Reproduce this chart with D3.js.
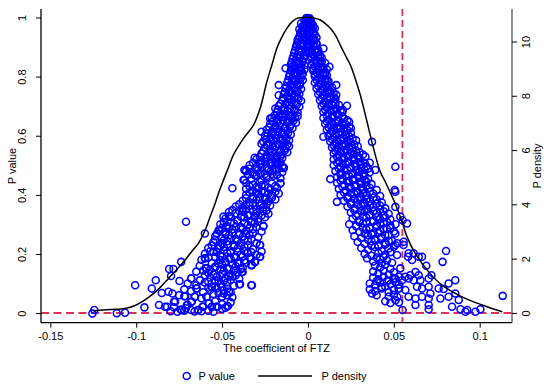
<!DOCTYPE html>
<html><head><meta charset="utf-8">
<script src="https://cdn.jsdelivr.net/npm/d3@7"></script>
<style>body{margin:0;background:#fff}svg{display:block}text{font-family:"Liberation Sans",Arial,sans-serif;font-size:11px;fill:#000}</style>
</head><body><svg id="c" width="550" height="387"></svg>
<script>
const xTicks=[-0.15,-0.1,-0.05,0,0.05,0.1];
const xTickLabels=["-0.15","-0.1","-0.05","0","0.05","0.1"];
const yTicks=[0,0.2,0.4,0.6,0.8,1];
const yTickLabels=["0","0.2","0.4","0.6","0.8","1"];
const y2Ticks=[0,2,4,6,8,10];
const y2TickLabels=["0","2","4","6","8","10"];
const xLineValue=0.055, yLineValue=0.002;
const seriesNames=["P value","P density"];
const axisTitles={x:"The coefficient of FTZ",y:"P value",y2:"P density"};

const densityPoints=[[-0.1249,0.10],[-0.1152,0.14],[-0.1065,0.18],[-0.1006,0.29],[-0.0960,0.45],[-0.0909,0.68],[-0.0861,0.95],[-0.0812,1.29],[-0.0762,1.63],[-0.0715,1.97],[-0.0674,2.30],[-0.0638,2.58],[-0.0598,3.07],[-0.0569,3.57],[-0.0540,4.06],[-0.0517,4.49],[-0.0492,4.91],[-0.0464,5.36],[-0.0434,5.84],[-0.0375,6.45],[-0.0317,6.94],[-0.0278,7.56],[-0.0239,8.54],[-0.0210,9.15],[-0.0181,9.77],[-0.0152,10.18],[-0.0122,10.51],[-0.0093,10.74],[-0.0064,10.87],[-0.0033,10.90],[0,10.91],[0.0043,10.87],[0.0072,10.81],[0.0101,10.68],[0.0130,10.51],[0.0159,10.26],[0.0188,9.89],[0.0217,9.52],[0.0247,9.15],[0.0276,8.64],[0.0305,8.05],[0.0344,7.06],[0.0382,6.08],[0.0421,5.22],[0.0450,4.85],[0.0509,4.03],[0.0548,3.38],[0.0577,2.82],[0.0625,2.21],[0.0703,1.53],[0.0781,1.04],[0.0897,0.61],[0.1014,0.31],[0.1131,0.06]];

const leftBranchPoints=[[-0.001,1.0],[0.0,0.998],[0.001,0.999],[-0.0005,0.995],[0.0015,0.993],
[-0.004,0.982],[-0.002,0.979],[0.0,0.984],[-0.003,0.972],[0.002,0.976],
[-0.005,0.962],[-0.003,0.958],[-0.001,0.965],[0.001,0.955],[-0.004,0.948],
[-0.005,0.938],[-0.003,0.942],[-0.001,0.932],[-0.006,0.926],
[-0.006,0.918],[-0.004,0.914],[-0.002,0.922],[0.0,0.91],
[-0.007,0.902],[-0.005,0.896],[-0.003,0.905],[-0.001,0.892],
[-0.008,0.882],[-0.006,0.876],[-0.004,0.885],[-0.002,0.871],
[-0.009,0.862],[-0.007,0.858],[-0.005,0.865],[-0.003,0.852],[-0.0095,0.85],
[-0.010,0.842],[-0.008,0.838],[-0.006,0.845],[-0.004,0.832],[-0.002,0.84],
[-0.010,0.822],[-0.008,0.816],[-0.005,0.825],[-0.003,0.812],[-0.013,0.83],
[-0.011,0.802],[-0.009,0.795],[-0.006,0.806],[-0.004,0.798],
[-0.012,0.782],[-0.010,0.776],[-0.007,0.785],[-0.005,0.772],[-0.003,0.79],[-0.017,0.773],
[-0.013,0.762],[-0.011,0.756],[-0.008,0.765],[-0.006,0.752],[-0.004,0.76],
[-0.014,0.742],[-0.012,0.736],[-0.009,0.745],[-0.006,0.732],[-0.017,0.739],
[-0.015,0.722],[-0.012,0.716],[-0.010,0.725],[-0.007,0.712],[-0.004,0.72],
[-0.017,0.702],[-0.014,0.696],[-0.011,0.705],[-0.008,0.692],[-0.005,0.7],[-0.019,0.694],
[-0.018,0.682],[-0.015,0.676],[-0.012,0.685],[-0.009,0.672],[-0.006,0.68],
[-0.021,0.662],[-0.018,0.656],[-0.015,0.665],[-0.012,0.652],[-0.009,0.66],[-0.006,0.668],[-0.022,0.66],
[-0.022,0.642],[-0.019,0.636],[-0.016,0.645],[-0.013,0.632],[-0.010,0.64],[-0.007,0.646],
[-0.024,0.622],[-0.021,0.616],[-0.018,0.625],[-0.015,0.612],[-0.012,0.62],[-0.009,0.628],[-0.027,0.615],
[-0.025,0.602],[-0.022,0.596],[-0.019,0.605],[-0.016,0.592],[-0.013,0.6],[-0.010,0.606],
[-0.026,0.582],[-0.023,0.576],[-0.020,0.585],[-0.017,0.572],[-0.014,0.58],[-0.011,0.586],[-0.027,0.575],
[-0.025,0.562],[-0.022,0.556],[-0.019,0.565],[-0.016,0.552],[-0.013,0.56],[-0.011,0.566],
[-0.027,0.542],[-0.024,0.536],[-0.021,0.545],[-0.018,0.532],[-0.015,0.54],[-0.012,0.546],
[-0.030,0.522],[-0.027,0.516],[-0.024,0.525],[-0.021,0.512],[-0.018,0.52],[-0.015,0.526],[-0.031,0.527],
[-0.034,0.502],[-0.030,0.496],[-0.027,0.505],[-0.024,0.492],[-0.021,0.5],[-0.018,0.506],[-0.015,0.498],
[-0.036,0.482],[-0.032,0.476],[-0.029,0.485],[-0.025,0.472],[-0.022,0.48],[-0.019,0.486],[-0.015,0.478],[-0.037,0.486],[-0.014,0.493],
[-0.037,0.452],[-0.033,0.456],[-0.030,0.465],[-0.027,0.452],[-0.024,0.46],[-0.020,0.466],[-0.016,0.458],
[-0.036,0.442],[-0.032,0.436],[-0.028,0.445],[-0.025,0.432],[-0.021,0.44],[-0.016,0.441],[-0.044,0.424],
[-0.036,0.422],[-0.032,0.416],[-0.029,0.425],[-0.025,0.412],[-0.022,0.42],[-0.018,0.426],
[-0.036,0.402],[-0.032,0.396],[-0.029,0.405],[-0.025,0.392],[-0.021,0.4],[-0.017,0.406],
[-0.038,0.382],[-0.034,0.376],[-0.030,0.385],[-0.027,0.372],[-0.023,0.38],[-0.019,0.386],
[-0.042,0.362],[-0.038,0.356],[-0.034,0.365],[-0.030,0.352],[-0.026,0.36],[-0.022,0.366],
[-0.046,0.344],[-0.042,0.339],[-0.038,0.345],[-0.034,0.332],[-0.030,0.34],[-0.026,0.346],[-0.023,0.338],
[-0.048,0.322],[-0.045,0.328],[-0.041,0.316],[-0.037,0.325],[-0.033,0.312],[-0.029,0.32],[-0.025,0.326],
[-0.051,0.302],[-0.047,0.296],[-0.043,0.305],[-0.039,0.292],[-0.035,0.3],[-0.031,0.306],[-0.026,0.296],[-0.071,0.311],
[-0.052,0.282],[-0.048,0.276],[-0.044,0.285],[-0.040,0.272],[-0.036,0.28],[-0.032,0.286],[-0.027,0.278],[-0.051,0.283],
[-0.054,0.262],[-0.050,0.256],[-0.046,0.265],[-0.042,0.252],[-0.038,0.26],[-0.034,0.266],[-0.029,0.258],[-0.060,0.271],
[-0.055,0.242],[-0.050,0.238],[-0.047,0.245],[-0.043,0.232],[-0.039,0.24],[-0.035,0.246],[-0.030,0.238],
[-0.058,0.222],[-0.052,0.221],[-0.049,0.225],[-0.045,0.212],[-0.041,0.22],[-0.037,0.226],[-0.032,0.218],[-0.028,0.232],
[-0.060,0.202],[-0.055,0.209],[-0.051,0.196],[-0.047,0.205],[-0.043,0.192],[-0.039,0.2],[-0.035,0.206],[-0.030,0.198],[-0.027,0.21],
[-0.062,0.182],[-0.060,0.187],[-0.051,0.181],[-0.048,0.176],[-0.045,0.185],[-0.041,0.172],[-0.037,0.18],[-0.033,0.186],[-0.028,0.192],[-0.031,0.175],
[-0.063,0.162],[-0.059,0.153],[-0.054,0.158],[-0.050,0.166],[-0.046,0.152],[-0.042,0.16],[-0.038,0.155],[-0.033,0.164],
[-0.065,0.142],[-0.058,0.138],[-0.053,0.125],[-0.049,0.145],[-0.045,0.132],[-0.041,0.14],[-0.038,0.141],[-0.061,0.146],
[-0.068,0.119],[-0.063,0.113],[-0.057,0.122],[-0.052,0.112],[-0.048,0.12],[-0.044,0.126],[-0.040,0.118],
[-0.070,0.102],[-0.065,0.096],[-0.060,0.105],[-0.056,0.091],[-0.051,0.1],[-0.047,0.106],[-0.043,0.094],[-0.040,0.099],[-0.033,0.096],
[-0.072,0.082],[-0.068,0.076],[-0.065,0.085],[-0.061,0.072],[-0.057,0.08],[-0.053,0.086],[-0.049,0.078],[-0.045,0.072],
[-0.075,0.062],[-0.072,0.059],[-0.066,0.057],[-0.062,0.052],[-0.059,0.057],[-0.055,0.066],[-0.050,0.057],[-0.047,0.062],[-0.044,0.055],
[-0.078,0.04],[-0.070,0.029],[-0.068,0.04],[-0.058,0.035],[-0.054,0.042],[-0.050,0.032],[-0.047,0.026],[-0.045,0.038],
[-0.082,0.023],[-0.078,0.021],[-0.074,0.014],[-0.071,0.018],[-0.068,0.012],[-0.064,0.012],[-0.061,0.023],[-0.056,0.023],[-0.053,0.023],[-0.050,0.016],[-0.048,0.02],
[-0.080,0.008],[-0.076,0.006],[-0.072,0.01],[-0.066,0.007],[-0.062,0.008],[-0.058,0.01],[-0.055,0.006]];

const leftFillPoints=[[-0.002,0.99],[0.0005,0.988],
[-0.0035,0.97],[-0.0015,0.968],[0.0005,0.972],
[-0.0045,0.95],[-0.0025,0.952],[-0.0005,0.946],
[-0.0055,0.93],[-0.0035,0.928],[-0.0015,0.934],
[-0.0065,0.91],[-0.0045,0.908],[-0.0025,0.912],[-0.0005,0.904],
[-0.0075,0.89],[-0.0055,0.888],[-0.0035,0.892],[-0.0015,0.884],
[-0.0085,0.87],[-0.0065,0.868],[-0.0045,0.874],[-0.0025,0.864],
[-0.0095,0.835],[-0.007,0.85],[-0.005,0.848],[-0.003,0.855],
[-0.009,0.828],[-0.007,0.83],[-0.004,0.822],[-0.002,0.826],
[-0.0105,0.81],[-0.0085,0.808],[-0.0065,0.814],[-0.0035,0.806],
[-0.0115,0.79],[-0.0085,0.788],[-0.0055,0.792],
[-0.0125,0.77],[-0.0095,0.768],[-0.0065,0.774],[-0.0045,0.778],
[-0.0135,0.75],[-0.0105,0.748],[-0.0075,0.754],[-0.005,0.744],
[-0.0145,0.73],[-0.011,0.728],[-0.008,0.734],[-0.0055,0.726],
[-0.016,0.71],[-0.013,0.708],[-0.0095,0.714],[-0.0065,0.706],
[-0.0175,0.69],[-0.0135,0.688],[-0.0105,0.694],[-0.0075,0.686],
[-0.0195,0.67],[-0.0165,0.668],[-0.0135,0.674],[-0.0105,0.666],[-0.0075,0.664],
[-0.0205,0.65],[-0.0175,0.648],[-0.0145,0.654],[-0.0115,0.646],[-0.0085,0.652],
[-0.0225,0.63],[-0.0195,0.628],[-0.0165,0.634],[-0.0135,0.626],[-0.0105,0.632],
[-0.0235,0.61],[-0.0205,0.608],[-0.0175,0.614],[-0.0145,0.606],[-0.0115,0.612],
[-0.0245,0.59],[-0.0215,0.588],[-0.0185,0.594],[-0.0155,0.586],[-0.0125,0.592],
[-0.024,0.57],[-0.0205,0.568],[-0.0175,0.574],[-0.0145,0.566],[-0.012,0.572],
[-0.026,0.55],[-0.0225,0.548],[-0.0195,0.554],[-0.0165,0.546],[-0.0135,0.552],
[-0.028,0.53],[-0.025,0.528],[-0.022,0.534],[-0.019,0.526],[-0.016,0.532],
[-0.032,0.51],[-0.028,0.508],[-0.025,0.514],[-0.022,0.506],[-0.019,0.512],[-0.016,0.51],
[-0.034,0.49],[-0.030,0.488],[-0.027,0.494],[-0.023,0.486],[-0.020,0.492],[-0.017,0.49],
[-0.035,0.47],[-0.031,0.468],[-0.028,0.474],[-0.024,0.466],[-0.021,0.472],[-0.018,0.47],
[-0.034,0.43],[-0.030,0.428],[-0.027,0.434],[-0.023,0.426],[-0.019,0.432],
[-0.034,0.41],[-0.030,0.408],[-0.027,0.414],[-0.023,0.406],[-0.019,0.412],
[-0.036,0.39],[-0.032,0.388],[-0.028,0.394],[-0.025,0.386],[-0.021,0.392],
[-0.040,0.37],[-0.036,0.368],[-0.032,0.374],[-0.028,0.366],[-0.024,0.372],
[-0.044,0.35],[-0.040,0.348],[-0.036,0.354],[-0.032,0.346],[-0.028,0.352],[-0.024,0.35],
[-0.046,0.33],[-0.039,0.328],[-0.035,0.334],[-0.031,0.326],[-0.027,0.332],
[-0.049,0.31],[-0.045,0.308],[-0.041,0.314],[-0.037,0.306],[-0.033,0.31],[-0.029,0.312],
[-0.050,0.29],[-0.046,0.288],[-0.042,0.294],[-0.038,0.286],[-0.034,0.29],[-0.030,0.292],
[-0.053,0.27],[-0.048,0.268],[-0.044,0.274],[-0.040,0.266],[-0.036,0.27],[-0.032,0.272],
[-0.054,0.25],[-0.049,0.248],[-0.045,0.254],[-0.041,0.246],[-0.037,0.25],[-0.033,0.252],
[-0.056,0.23],[-0.051,0.228],[-0.047,0.234],[-0.043,0.226],[-0.039,0.23],[-0.035,0.232],
[-0.057,0.21],[-0.053,0.208],[-0.049,0.214],[-0.045,0.206],[-0.041,0.21],[-0.037,0.212],[-0.033,0.208],
[-0.058,0.19],[-0.054,0.192],[-0.050,0.194],[-0.046,0.186],[-0.042,0.19],[-0.038,0.194],[-0.034,0.19],
[-0.056,0.17],[-0.052,0.168],[-0.048,0.174],[-0.044,0.166],[-0.040,0.17],[-0.036,0.172],
[-0.057,0.148],[-0.051,0.15],[-0.047,0.154],[-0.043,0.146],[-0.039,0.15],
[-0.060,0.13],[-0.055,0.132],[-0.050,0.134],[-0.046,0.126],[-0.042,0.13],
[-0.058,0.108],[-0.054,0.112],[-0.049,0.11],[-0.045,0.114],
[-0.058,0.088],[-0.054,0.092],[-0.050,0.09],[-0.047,0.084],
[-0.052,0.07],[-0.049,0.068],[-0.046,0.075]];

const leftTailPoints=[[-0.1255,0.0],[-0.1244,0.012],[-0.1113,0.001],[-0.1065,0.003],[-0.1006,0.096],[-0.0952,0.021],[-0.0909,0.085],[-0.0886,0.113],[-0.0867,0.029],[-0.0851,0.07],[-0.0832,0.023],[-0.0812,0.074],[-0.0808,0.151],[-0.0783,0.151],[-0.0797,0.127],[-0.0789,0.068],[-0.0773,0.04],[-0.0748,0.11],[-0.0738,0.175],[-0.0734,0.012],[-0.0715,0.059],[-0.0705,0.029],[-0.068,0.119],[-0.0676,0.04],[-0.0657,0.057],[-0.0647,0.085],[-0.0628,0.113],[-0.0598,0.187],[-0.0594,0.153],[-0.0614,0.023],[-0.0638,0.012],[-0.0589,0.057],[-0.0575,0.035],[-0.0559,0.091],[-0.054,0.158],[-0.053,0.125],[-0.0517,0.283],[-0.0521,0.221],[-0.0501,0.238],[-0.0492,0.328],[-0.0511,0.181],[-0.053,0.023],[-0.0559,0.023],[-0.0501,0.057],
[-0.0326,0.096],[-0.0466,0.026],[-0.0395,0.099],[-0.0385,0.141],[-0.0259,0.296],[-0.0278,0.232],[-0.0278,0.192],[-0.0326,0.164],[-0.0307,0.175],[-0.0375,0.452],[-0.0365,0.486],[-0.0161,0.441],[-0.0142,0.493]];

const rightBranchPoints=[[0.002,0.985],[0.003,0.975],[0.001,0.98],
[0.000,0.962],[0.002,0.958],[0.004,0.965],[0.003,0.95],
[0.0,0.942],[0.002,0.936],[0.004,0.944],
[-0.0005,0.922],[0.002,0.916],[0.004,0.925],[0.005,0.912],
[0.000,0.902],[0.002,0.896],[0.004,0.905],[0.006,0.892],[0.009,0.897],
[0.001,0.882],[0.003,0.876],[0.005,0.885],[0.007,0.872],
[0.002,0.862],[0.004,0.856],[0.006,0.865],[0.008,0.852],
[0.002,0.842],[0.004,0.836],[0.007,0.845],[0.009,0.832],[0.0125,0.835],[0.010,0.848],
[0.003,0.822],[0.005,0.816],[0.008,0.825],[0.010,0.812],
[0.004,0.802],[0.006,0.796],[0.009,0.805],[0.011,0.792],
[0.004,0.782],[0.007,0.776],[0.010,0.785],[0.012,0.772],[0.0165,0.773],
[0.005,0.762],[0.008,0.756],[0.011,0.765],[0.013,0.752],
[0.006,0.742],[0.009,0.736],[0.012,0.745],[0.015,0.732],[0.0165,0.74],
[0.007,0.722],[0.010,0.716],[0.013,0.725],[0.016,0.712],
[0.008,0.702],[0.011,0.696],[0.014,0.705],[0.017,0.692],[0.0227,0.703],[0.0204,0.689],
[0.009,0.682],[0.012,0.676],[0.015,0.685],[0.018,0.672],[0.020,0.68],
[0.009,0.662],[0.012,0.656],[0.015,0.665],[0.018,0.652],[0.021,0.66],
[0.010,0.642],[0.013,0.636],[0.016,0.645],[0.019,0.632],[0.022,0.64],[0.024,0.648],
[0.011,0.622],[0.014,0.616],[0.017,0.625],[0.020,0.612],[0.023,0.62],[0.025,0.628],
[0.012,0.602],[0.015,0.596],[0.018,0.605],[0.021,0.592],[0.024,0.6],[0.009,0.598],
[0.013,0.582],[0.016,0.576],[0.019,0.585],[0.022,0.572],[0.025,0.58],[0.028,0.586],[0.0373,0.581],
[0.014,0.562],[0.017,0.556],[0.020,0.565],[0.023,0.552],[0.026,0.56],[0.029,0.566],
[0.015,0.542],[0.018,0.536],[0.021,0.545],[0.024,0.532],[0.027,0.54],[0.030,0.546],[0.032,0.538],
[0.015,0.522],[0.018,0.516],[0.021,0.525],[0.024,0.512],[0.027,0.52],[0.030,0.526],[0.0334,0.531],
[0.015,0.502],[0.019,0.496],[0.022,0.505],[0.025,0.492],[0.028,0.5],[0.031,0.506],[0.034,0.498],[0.036,0.51],
[0.016,0.482],[0.019,0.476],[0.023,0.485],[0.026,0.472],[0.030,0.48],[0.033,0.486],[0.036,0.478],[0.0392,0.486],[0.0509,0.497],
[0.017,0.462],[0.020,0.456],[0.024,0.465],[0.027,0.452],[0.030,0.46],[0.033,0.466],[0.035,0.456],[0.013,0.455],
[0.017,0.442],[0.021,0.436],[0.024,0.445],[0.028,0.432],[0.031,0.44],[0.034,0.446],[0.037,0.438],
[0.018,0.422],[0.022,0.416],[0.025,0.425],[0.029,0.412],[0.032,0.42],[0.036,0.426],[0.040,0.418],[0.0505,0.418],
[0.019,0.402],[0.023,0.396],[0.027,0.405],[0.030,0.392],[0.034,0.4],[0.038,0.406],[0.042,0.398],[0.0509,0.412],
[0.021,0.382],[0.025,0.376],[0.029,0.385],[0.032,0.372],[0.036,0.38],[0.040,0.386],[0.043,0.376],[0.0169,0.378],
[0.023,0.362],[0.027,0.356],[0.031,0.365],[0.034,0.352],[0.038,0.36],[0.042,0.366],[0.045,0.356],[0.0509,0.361],
[0.025,0.342],[0.029,0.336],[0.033,0.345],[0.036,0.332],[0.040,0.34],[0.044,0.346],[0.047,0.338],
[0.026,0.322],[0.030,0.316],[0.034,0.325],[0.038,0.312],[0.042,0.32],[0.045,0.326],[0.048,0.318],[0.0538,0.328],[0.0551,0.316],
[0.024,0.302],[0.028,0.296],[0.032,0.305],[0.036,0.292],[0.040,0.3],[0.044,0.306],[0.048,0.298],[0.051,0.302],[0.0577,0.305],
[0.026,0.282],[0.030,0.276],[0.034,0.285],[0.038,0.272],[0.042,0.28],[0.046,0.286],[0.050,0.278],
[0.027,0.262],[0.031,0.256],[0.035,0.265],[0.039,0.252],[0.043,0.26],[0.047,0.266],[0.0509,0.271],
[0.029,0.242],[0.033,0.236],[0.037,0.245],[0.041,0.232],[0.045,0.24],[0.049,0.246],[0.052,0.238],[0.0557,0.243],[0.0557,0.232],[0.0509,0.232],
[0.031,0.222],[0.035,0.216],[0.039,0.225],[0.043,0.212],[0.047,0.22],[0.050,0.226],
[0.033,0.202],[0.037,0.196],[0.041,0.205],[0.045,0.199],[0.048,0.208],[0.0519,0.198],[0.0586,0.204],[0.0615,0.204],[0.0804,0.212],
[0.0344,0.187],[0.038,0.176],[0.042,0.185],[0.046,0.18],[0.049,0.172],[0.0583,0.192],[0.0606,0.181],[0.0645,0.192],[0.0664,0.192],[0.0784,0.175],
[0.039,0.162],[0.042,0.156],[0.045,0.165],[0.048,0.152],[0.0538,0.153],[0.0689,0.162],
[0.038,0.142],[0.041,0.136],[0.044,0.145],[0.047,0.132],[0.050,0.14],[0.0626,0.141],[0.0645,0.13],[0.0596,0.13],[0.0567,0.125],[0.0528,0.125],[0.0719,0.13],
[0.038,0.122],[0.041,0.116],[0.044,0.125],[0.047,0.112],[0.050,0.12],[0.0509,0.119],[0.0548,0.113],[0.0586,0.119],[0.0615,0.113],[0.0655,0.113],[0.0703,0.119],[0.0819,0.102],[0.0858,0.113],
[0.036,0.102],[0.039,0.096],[0.042,0.105],[0.045,0.092],[0.048,0.1],[0.051,0.106],[0.053,0.098],
[0.036,0.082],[0.039,0.076],[0.043,0.085],[0.047,0.072],[0.050,0.08],[0.053,0.086],[0.0528,0.085],[0.0567,0.08],[0.0635,0.091],[0.0664,0.085],[0.0703,0.091],[0.0761,0.085],[0.079,0.083],[0.0713,0.068],
[0.0373,0.068],[0.040,0.062],[0.047,0.058],[0.050,0.064],[0.052,0.056],[0.0586,0.057],[0.0626,0.051],[0.0664,0.057],[0.0703,0.051],[0.0771,0.051],[0.0819,0.057],[0.0858,0.068],[0.1134,0.06],
[0.045,0.042],[0.048,0.036],[0.051,0.045],[0.053,0.038],[0.0878,0.046],[0.0626,0.029],[0.0703,0.029],[0.0703,0.015],[0.0839,0.023],[0.0888,0.015],[0.0917,0.006],[0.0927,0.012],[0.0975,0.006],[0.1004,0.015],[0.0551,0.012]];

const rightFillPoints=[[0.001,0.97],[0.003,0.968],[0.001,0.95],[0.003,0.948],
[0.001,0.93],[0.003,0.928],[0.005,0.934],
[0.001,0.91],[0.003,0.908],[0.005,0.914],
[0.002,0.89],[0.004,0.888],[0.006,0.884],
[0.002,0.87],[0.004,0.868],[0.006,0.874],[0.008,0.866],
[0.003,0.85],[0.005,0.848],[0.007,0.854],
[0.003,0.83],[0.006,0.828],[0.008,0.834],[0.011,0.826],
[0.004,0.81],[0.007,0.808],[0.009,0.814],[0.011,0.806],
[0.005,0.79],[0.008,0.788],[0.010,0.794],[0.012,0.786],
[0.006,0.77],[0.009,0.768],[0.011,0.774],[0.014,0.766],
[0.007,0.75],[0.010,0.748],[0.012,0.754],[0.015,0.746],
[0.008,0.73],[0.011,0.728],[0.013,0.734],[0.016,0.726],
[0.009,0.71],[0.012,0.708],[0.015,0.714],[0.018,0.706],
[0.010,0.69],[0.013,0.688],[0.016,0.694],[0.019,0.686],
[0.011,0.67],[0.014,0.668],[0.017,0.674],[0.020,0.666],
[0.011,0.65],[0.014,0.648],[0.017,0.654],[0.020,0.646],[0.023,0.654],
[0.012,0.63],[0.015,0.628],[0.018,0.634],[0.021,0.626],[0.024,0.632],
[0.013,0.61],[0.016,0.608],[0.019,0.614],[0.022,0.606],[0.025,0.612],
[0.014,0.59],[0.017,0.588],[0.020,0.594],[0.023,0.586],[0.026,0.592],
[0.015,0.57],[0.018,0.568],[0.021,0.574],[0.024,0.566],[0.027,0.572],
[0.016,0.55],[0.019,0.548],[0.022,0.554],[0.025,0.546],[0.028,0.552],
[0.017,0.53],[0.020,0.528],[0.023,0.534],[0.026,0.526],[0.029,0.532],
[0.017,0.51],[0.020,0.508],[0.023,0.514],[0.027,0.506],[0.030,0.512],[0.033,0.51],
[0.018,0.49],[0.021,0.488],[0.025,0.494],[0.028,0.486],[0.031,0.492],[0.035,0.49],
[0.019,0.47],[0.022,0.468],[0.026,0.474],[0.029,0.466],[0.032,0.472],
[0.019,0.45],[0.023,0.448],[0.026,0.454],[0.030,0.446],[0.033,0.452],
[0.020,0.43],[0.024,0.428],[0.027,0.434],[0.031,0.426],[0.034,0.432],
[0.021,0.41],[0.025,0.408],[0.028,0.414],[0.032,0.406],[0.036,0.412],
[0.023,0.39],[0.027,0.388],[0.031,0.394],[0.034,0.386],[0.038,0.392],
[0.025,0.37],[0.029,0.368],[0.033,0.374],[0.036,0.366],[0.040,0.372],
[0.027,0.35],[0.031,0.348],[0.035,0.354],[0.038,0.346],[0.042,0.352],
[0.028,0.33],[0.032,0.328],[0.036,0.334],[0.040,0.326],[0.044,0.332],
[0.030,0.31],[0.034,0.308],[0.038,0.314],[0.042,0.306],[0.046,0.31],
[0.032,0.29],[0.036,0.288],[0.040,0.294],[0.044,0.286],[0.048,0.29],
[0.033,0.27],[0.037,0.268],[0.041,0.274],[0.045,0.266],
[0.035,0.25],[0.039,0.248],[0.043,0.254],[0.047,0.246],
[0.037,0.23],[0.041,0.228],[0.045,0.234],
[0.040,0.19],[0.044,0.192],[0.043,0.17],[0.040,0.11],[0.043,0.09],[0.046,0.11]];

const pValuePoints=[].concat(leftBranchPoints,leftFillPoints,leftTailPoints,rightBranchPoints,rightFillPoints);

const svg=d3.select("#c");
svg.append("rect").attr("width",550).attr("height",387).attr("fill","#fff");
const frame={l:41,r:512,t:9,b:322.7};
const x=d3.scaleLinear().domain([-0.15,0.1]).range([50.3,479.7]);
const y=d3.scaleLinear().domain([0,1]).range([313.6,18]);
const y2=d3.scaleLinear().domain([0,10]).range([313.4,42]);
const red="#d8325a", blue="#0000ff";

svg.append("line").attr("x1",frame.l).attr("x2",frame.r).attr("y1",y(yLineValue)).attr("y2",y(yLineValue))
  .attr("stroke",red).attr("stroke-width",1.8).attr("stroke-dasharray","8,4.5");
svg.append("line").attr("x1",x(xLineValue)).attr("x2",x(xLineValue)).attr("y1",frame.t).attr("y2",frame.b)
  .attr("stroke",red).attr("stroke-width",1.8).attr("stroke-dasharray","7,4");

svg.append("g").selectAll("circle").data(pValuePoints).join("circle")
  .attr("cx",d=>x(d[0])).attr("cy",d=>y(d[1])).attr("r",3.5)
  .attr("fill","none").attr("stroke",blue).attr("stroke-width",1.55);

svg.append("path").datum(densityPoints)
  .attr("d",d3.line().x(d=>x(d[0])).y(d=>y2(d[1])).curve(d3.curveCatmullRom.alpha(0.5)))
  .attr("fill","none").attr("stroke","#000").attr("stroke-width",1.5);

svg.append("line").attr("x1",frame.l).attr("x2",frame.l).attr("y1",frame.t).attr("y2",frame.b).attr("stroke","#000").attr("stroke-width",1.3);
svg.append("line").attr("x1",frame.l).attr("x2",frame.r).attr("y1",frame.b).attr("y2",frame.b).attr("stroke","#000").attr("stroke-width",1.3);
svg.append("line").attr("x1",frame.r).attr("x2",frame.r).attr("y1",frame.t).attr("y2",frame.b).attr("stroke","#555").attr("stroke-width",1.3);

const gx=svg.append("g").attr("transform",`translate(0,${frame.b})`)
  .call(d3.axisBottom(x).tickValues(xTicks).tickFormat((d,i)=>xTickLabels[i]).tickSize(5).tickPadding(4.5));
gx.select(".domain").remove();
gx.selectAll("text").style("font-family",'"Liberation Sans",Arial,sans-serif').style("font-size","11px").attr("fill","#000");
gx.selectAll("line").attr("stroke","#000");

const gy=svg.append("g");
gy.selectAll("line").data(yTicks).join("line").attr("x1",frame.l-5).attr("x2",frame.l).attr("y1",d=>y(d)).attr("y2",d=>y(d)).attr("stroke","#000");
gy.selectAll("text").data(yTicks).join("text").attr("transform",d=>`translate(25.5,${y(d)}) rotate(-90)`).attr("text-anchor","middle").text((d,i)=>yTickLabels[i]);

const gy2=svg.append("g");
gy2.selectAll("line").data(y2Ticks).join("line").attr("x1",frame.r).attr("x2",frame.r+5).attr("y1",d=>y2(d)).attr("y2",d=>y2(d)).attr("stroke","#000");
gy2.selectAll("text").data(y2Ticks).join("text").attr("transform",d=>`translate(529.5,${y2(d)}) rotate(-90)`).attr("text-anchor","middle").text((d,i)=>y2TickLabels[i]);

svg.append("text").attr("x",(frame.l+frame.r)/2).attr("y",352).attr("text-anchor","middle").text(axisTitles.x);
svg.append("text").attr("transform","translate(15.5,166) rotate(-90)").attr("text-anchor","middle").text(axisTitles.y);
svg.append("text").attr("transform","translate(541,166) rotate(-90)").attr("text-anchor","middle").text(axisTitles.y2);

const lg=svg.append("g");
lg.append("circle").attr("cx",186.7).attr("cy",376).attr("r",3.5).attr("fill","none").attr("stroke",blue).attr("stroke-width",1.55);
lg.append("text").attr("x",198.5).attr("y",380).text(seriesNames[0]);
lg.append("line").attr("x1",258).attr("x2",312).attr("y1",376).attr("y2",376).attr("stroke","#000").attr("stroke-width",1.5);
lg.append("text").attr("x",321.5).attr("y",380).text(seriesNames[1]);
</script></body></html>
